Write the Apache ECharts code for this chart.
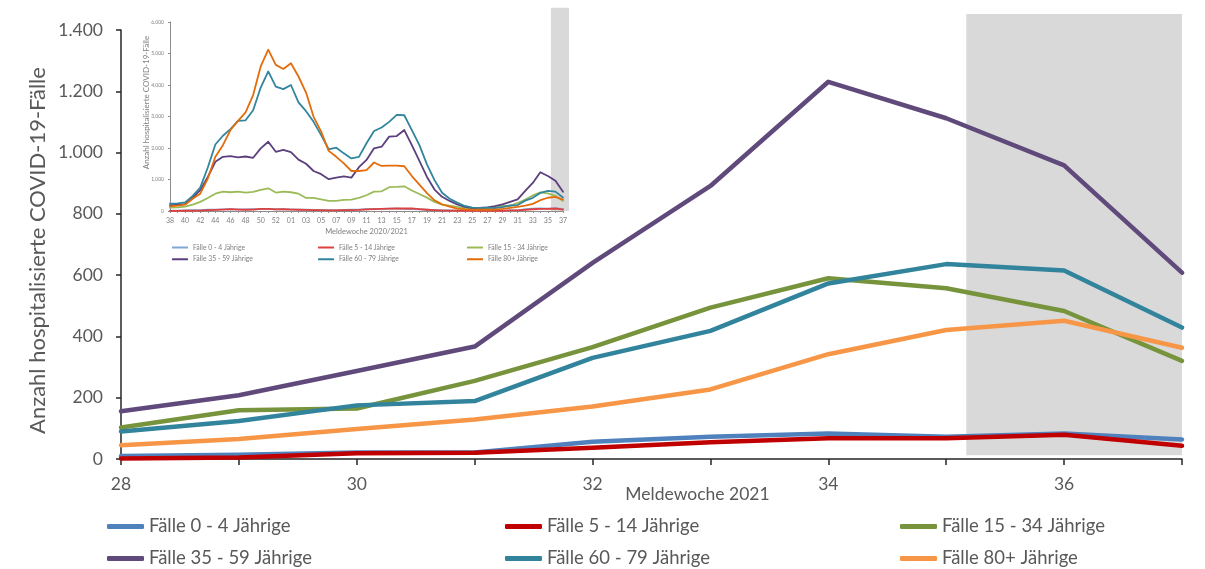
<!DOCTYPE html>
<html>
<head>
<meta charset="utf-8">
<script src="https://cdn.jsdelivr.net/npm/echarts@6/dist/echarts.min.js"></script>
<style>
  html, body { margin: 0; padding: 0; background: #fff; }
  #chart { width: 1205px; height: 569px; }
</style>
</head>
<body>
<div id="chart"></div>
<script>
// Reporting weeks 28–37 of 2021 (main panel)
const weeks = [28, 29, 30, 31, 32, 33, 34, 35, 36, 37];
const cases0to4   = [10, 14, 21, 21, 56, 73, 83, 73, 83, 64];
const cases5to14  = [2, 5, 19, 20, 37, 55, 68, 68, 79, 43];
const cases15to34 = [103, 159, 165, 255, 365, 494, 590, 557, 483, 320];
const cases35to59 = [156, 208, 287, 367, 640, 891, 1231, 1112, 958, 608];
const cases60to79 = [90, 124, 175, 189, 330, 418, 573, 636, 615, 429];
const cases80plus = [45, 65, 98, 129, 171, 227, 342, 421, 451, 363];

// Whole season 2020/2021 (inset): week labels
const seasonWeeks = ['38','39','40','41','42','43','44','45','46','47','48','49','50','51','52','53',
  '01','02','03','04','05','06','07','08','09','10','11','12','13','14','15','16','17','18','19','20',
  '21','22','23','24','25','26','27','28','29','30','31','32','33','34','35','36','37'];

// Weeks 38/2020 – 27/2021; weeks 28–37 continue with the arrays above
const early0to4   = [15, 15, 18, 25, 30, 40, 45, 50, 55, 50, 50, 55, 60, 65, 55, 55, 50, 45, 40, 35, 30, 30, 30, 35, 40, 45, 55, 65, 70, 75, 75, 70, 60, 50, 40, 30, 25, 20, 15, 12, 10, 10, 10];
const early5to14  = [5, 5, 8, 10, 15, 25, 35, 45, 60, 45, 40, 45, 65, 70, 50, 55, 45, 40, 35, 30, 25, 20, 20, 25, 30, 35, 50, 60, 70, 75, 80, 80, 85, 60, 40, 25, 15, 10, 8, 5, 3, 3, 3];
const early15to34 = [105, 115, 140, 200, 290, 415, 550, 615, 595, 615, 585, 605, 670, 720, 585, 615, 595, 550, 415, 415, 370, 320, 320, 350, 360, 415, 500, 615, 625, 755, 765, 785, 650, 540, 425, 290, 200, 170, 130, 85, 65, 65, 75];
const early35to59 = [180, 200, 220, 415, 660, 1080, 1560, 1720, 1740, 1700, 1730, 1690, 1990, 2200, 1880, 1940, 1870, 1630, 1500, 1270, 1170, 1010, 1060, 1100, 1060, 1390, 1620, 1990, 2040, 2360, 2380, 2570, 2090, 1590, 1080, 680, 450, 320, 210, 130, 95, 95, 115];
const early60to79 = [230, 245, 275, 480, 740, 1380, 2110, 2390, 2600, 2860, 2880, 3200, 3920, 4430, 3950, 3870, 4000, 3450, 3170, 2830, 2410, 1960, 2010, 1830, 1670, 1720, 2150, 2540, 2650, 2830, 3050, 3040, 2570, 2090, 1480, 980, 580, 390, 265, 160, 105, 95, 105];
const early80plus = [150, 170, 200, 390, 550, 1030, 1720, 2090, 2570, 2860, 3130, 3680, 4590, 5120, 4640, 4510, 4690, 4270, 3760, 2990, 2520, 1910, 1720, 1510, 1270, 1270, 1300, 1540, 1430, 1440, 1440, 1420, 1110, 840, 570, 340, 210, 140, 75, 50, 40, 40, 40];

// Weeks still subject to reporting delay (shaded)
const delayFromWeek = 35.17;
const delayToWeek = 37;
const delayFromSeasonIdx = 50.4;
const delayToSeasonIdx = 52.8;

const groupNames = ['Fälle 0 - 4 Jährige', 'Fälle 5 - 14 Jährige', 'Fälle 15 - 34 Jährige',
                    'Fälle 35 - 59 Jährige', 'Fälle 60 - 79 Jährige', 'Fälle 80+ Jährige'];
const mainValues = [cases0to4, cases5to14, cases15to34, cases35to59, cases60to79, cases80plus];
const earlyValues = [early0to4, early5to14, early15to34, early35to59, early60to79, early80plus];

const mainColors  = ['#4F81BD', '#C00000', '#77933C', '#604A7B', '#31849B', '#F79646'];
const insetColors = ['#7EA6D8', '#E0403D', '#9BBB59', '#5B3F7E', '#31859C', '#E46C0A'];

const FONT = 'Lato, "Open Sans", sans-serif';
const TXT = '#595959';

const thousands = v => String(v).replace(/\B(?=(\d{3})+(?!\d))/g, '.');

const series = [];
groupNames.forEach((name, i) => {
  series.push({
    name: name, type: 'line', xAxisIndex: 0, yAxisIndex: 0,
    data: weeks.map((w, k) => [w, mainValues[i][k]]),
    showSymbol: false, symbol: 'none', z: 3,
    lineStyle: { color: mainColors[i], width: 4.5, cap: 'round', join: 'round' },
    itemStyle: { color: mainColors[i] },
    emphasis: { disabled: true }, silent: true
  });
});
groupNames.forEach((name, i) => {
  series.push({
    name: name, type: 'line', xAxisIndex: 1, yAxisIndex: 1,
    data: earlyValues[i].concat(mainValues[i]),
    showSymbol: false, symbol: 'none', z: 3,
    lineStyle: { color: insetColors[i], width: 1.8, cap: 'round', join: 'round' },
    itemStyle: { color: insetColors[i] },
    emphasis: { disabled: true }, silent: true
  });
});

function legendColumn(idxs, left, top, gap, iw, ih, fs, lh, colors, color) {
  return {
    orient: 'vertical', left: left, top: top, padding: 0, itemGap: gap,
    itemWidth: iw, itemHeight: ih, selectedMode: false, icon: 'roundRect',
    textStyle: { color: color, fontSize: fs, fontFamily: FONT, lineHeight: lh },
    data: idxs.map(i => ({ name: groupNames[i], itemStyle: { color: colors[i] } }))
  };
}

const chart = echarts.init(document.getElementById('chart'), null, { renderer: 'canvas' });

chart.setOption({
  animation: false,
  backgroundColor: '#fff',
  grid: [
    { left: 121, right: 23, top: 30, bottom: 110 },
    { left: 170, right: 642, top: 22, bottom: 358 }
  ],
  xAxis: [
    {
      gridIndex: 0, type: 'value', min: 28, max: 37, interval: 1,
      name: 'Meldewoche 2021', nameLocation: 'middle', nameGap: 26, nameMoveOverlap: false,
      nameTextStyle: { color: TXT, fontSize: 17.5, fontFamily: FONT, padding: [0, 0, 0, 92] },
      axisLine: { lineStyle: { color: '#262626', width: 1.5 } },
      axisTick: { show: true, length: 6, lineStyle: { color: '#262626', width: 1.5 } },
      axisLabel: { color: TXT, fontSize: 17.5, fontFamily: FONT, margin: 16,
                   formatter: v => (v % 2 === 0 ? String(v) : '') },
      splitLine: { show: false }
    },
    {
      gridIndex: 1, type: 'category', data: seasonWeeks, boundaryGap: false,
      name: 'Meldewoche 2020/2021', nameLocation: 'middle', nameGap: 17, nameMoveOverlap: false,
      nameTextStyle: { color: '#7f7f7f', fontSize: 7.5, fontFamily: FONT },
      axisLine: { lineStyle: { color: '#8c8c8c', width: 1 } },
      axisTick: { show: true, length: 2, interval: 0, lineStyle: { color: '#8c8c8c' } },
      axisLabel: { color: '#7f7f7f', fontSize: 7, fontFamily: FONT, margin: 6, interval: 1 },
      splitLine: { show: false }
    }
  ],
  yAxis: [
    {
      gridIndex: 0, type: 'value', min: 0, max: 1400, interval: 200,
      name: 'Anzahl hospitalisierte COVID-19-Fälle', nameLocation: 'middle', nameGap: 72,
      nameMoveOverlap: false,
      nameTextStyle: { color: TXT, fontSize: 22, fontFamily: FONT, padding: [0, 12, 0, 0] },
      axisLine: { show: true, lineStyle: { color: '#262626', width: 1.5 } },
      axisTick: { show: true, length: 5, lineStyle: { color: '#262626', width: 1.5 } },
      axisLabel: { color: TXT, fontSize: 17.5, fontFamily: FONT, margin: 18, formatter: thousands },
      splitLine: { show: false }
    },
    {
      gridIndex: 1, type: 'value', min: 0, max: 6000, interval: 1000,
      name: 'Anzahl hospitalisierte COVID-19-Fälle', nameLocation: 'middle', nameGap: 20,
      nameMoveOverlap: false,
      nameTextStyle: { color: '#7f7f7f', fontSize: 8, fontFamily: FONT, padding: [0, 0, 0, 28] },
      axisLine: { show: true, lineStyle: { color: '#8c8c8c', width: 1 } },
      axisTick: { show: true, length: 2, lineStyle: { color: '#8c8c8c' } },
      axisLabel: { color: '#7f7f7f', fontSize: 5, fontFamily: FONT, margin: 6, formatter: thousands },
      splitLine: { show: false }
    }
  ],
  legend: [
    legendColumn([0, 3], 107, 516, 11, 37, 5, 18.5, 21, mainColors, TXT),
    legendColumn([1, 4], 505, 516, 11, 37, 5, 18.5, 21, mainColors, TXT),
    legendColumn([2, 5], 900, 516, 11, 37, 5, 18.5, 21, mainColors, TXT),
    legendColumn([0, 3], 172, 243.5, 3.8, 16, 2, 6.8, 8, insetColors, '#7f7f7f'),
    legendColumn([1, 4], 318, 243.5, 3.8, 16, 2, 6.8, 8, insetColors, '#7f7f7f'),
    legendColumn([2, 5], 467, 243.5, 3.8, 16, 2, 6.8, 8, insetColors, '#7f7f7f')
  ],
  series: series
});

// Shaded blocks for the weeks with incomplete reporting, placed through the axes' scales
function shadeRect(p0, p1) {
  return {
    type: 'rect', z: 0, silent: true,
    shape: { x: Math.min(p0[0], p1[0]), y: Math.min(p0[1], p1[1]),
             width: Math.abs(p1[0] - p0[0]), height: Math.abs(p1[1] - p0[1]) },
    style: { fill: '#D9D9D9' }
  };
}
const m0 = chart.convertToPixel({ gridIndex: 0 }, [delayFromWeek, 12]);
const m1 = chart.convertToPixel({ gridIndex: 0 }, [delayToWeek, 1452]);
const seasonX = idx => {
  const a = chart.convertToPixel({ xAxisIndex: 1 }, seasonWeeks[0]);
  const b = chart.convertToPixel({ xAxisIndex: 1 }, seasonWeeks[1]);
  return a + (b - a) * idx;
};
const sTop = chart.convertToPixel({ yAxisIndex: 1 }, 6450);
const sBot = chart.convertToPixel({ yAxisIndex: 1 }, 0);
chart.setOption({
  graphic: [
    shadeRect(m0, m1),
    shadeRect([seasonX(delayFromSeasonIdx), sBot], [seasonX(delayToSeasonIdx), sTop])
  ]
});
</script>
</body>
</html>
